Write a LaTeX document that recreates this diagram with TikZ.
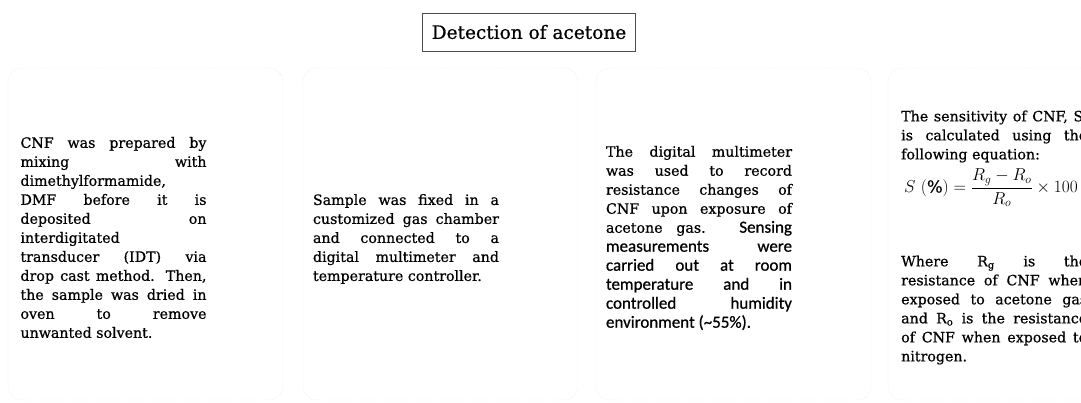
\documentclass[tikz,border=0pt]{standalone}
\usepackage{amsmath}
\usepackage{fontspec}
\setmainfont{DejaVu Serif}[RawFeature={embolden=0.7}]
\newfontfamily\calib{Carlito}[RawFeature={embolden=0.7}]
\hyphenpenalty=10000
\exhyphenpenalty=10000
\hbadness=10000

\tikzset{
  panel/.style={draw=black!14, densely dotted, rounded corners=14pt},
  para/.style={text width=186pt, align=justify, inner sep=0pt,
    font=\fontsize{14.2}{19}\selectfont},
  formula/.style={inner sep=0pt, font=\fontsize{16.5}{21}\selectfont},
  heading/.style={draw=black!70, line width=0.6pt, inner xsep=9pt,
    minimum height=38pt, font=\fontsize{18.5}{22}\selectfont}
}

\begin{document}
\begin{tikzpicture}[x=1pt,y=1pt]
\useasboundingbox (0,0) rectangle (1081,403);
\clip (0,0) rectangle (1081,403);

% title
\node[heading] (title) at (529,371) {Detection of acetone};

% faint panels
\draw[panel] (8,3) rectangle (283,335);
\draw[panel] (303,3) rectangle (578,335);
\draw[panel] (596,3) rectangle (871,335);
\draw[panel] (888,3) rectangle (1163,335);

% step 1
\node[para] (prep) at (113.5,165.5) {CNF was prepared by\linebreak
  mixing with\linebreak dimethylformamide,\linebreak DMF before it is\linebreak
  deposited on\linebreak interdigitated\linebreak transducer (IDT) via\linebreak
  drop cast method. Then,\linebreak the sample was dried in\linebreak
  oven to remove\linebreak unwanted solvent.};

% step 2
\node[para] (fix) at (406,164) {Sample was fixed in a\linebreak
  customized gas chamber\linebreak and connected to a\linebreak
  digital multimeter and\linebreak temperature controller.};

% step 3
\node[para] (meas) at (699,165) {The digital multimeter\linebreak
  was used to record\linebreak resistance changes of\linebreak
  CNF upon exposure of\linebreak acetone gas. {\calib\fontsize{17}{19}\selectfont Sensing\linebreak
  measurements were\linebreak carried out at room\linebreak
  temperature and in\linebreak controlled humidity\linebreak
  environment (\textasciitilde55\%).}};

% step 4
\node[para, anchor=west] (sens) at (901,266.5) {The sensitivity of CNF, S,\linebreak
  is calculated using the\linebreak following equation:};
\node[formula, anchor=west] (eq) at (904,215)
  {$S\ (\%) = \dfrac{R_g - R_o}{R_o} \times 100$};
\node[para, anchor=west] (where) at (901,93) {Where R\textsubscript{g} is the\linebreak
  resistance of CNF when\linebreak exposed to acetone gas\linebreak
  and R\textsubscript{o} is the resistance\linebreak of CNF when exposed to\linebreak
  nitrogen.};
\end{tikzpicture}
\end{document}
